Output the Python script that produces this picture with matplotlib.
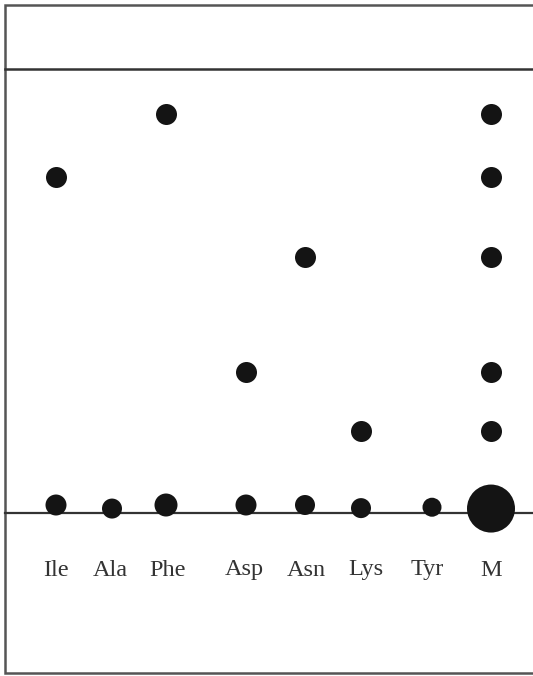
import matplotlib
matplotlib.use("Agg")
import matplotlib.pyplot as plt

# lanes on the TLC plate
lanes = ['Ile', 'Ala', 'Phe', 'Asp', 'Asn', 'Lys', 'Tyr', 'M']
lane_x = [56, 112, 166, 246, 305, 361, 432, 491]

# origin spots (Rf ~ 0) and their diameters (px)
origin_rf = [0.018, 0.010, 0.018, 0.018, 0.018, 0.011, 0.013, 0.010]
origin_d = [21, 20, 23, 21, 20, 20, 19, 48]

# migrated spots: lane name -> Rf values
spot_lane = ['Ile', 'Phe', 'Asp', 'Asn', 'Lys', 'M', 'M', 'M', 'M', 'M']
spot_rf = [0.757, 0.899, 0.318, 0.577, 0.185, 0.899, 0.757, 0.577, 0.318, 0.185]

W, H = 533, 676
Y_ORIGIN, Y_FRONT = 513, 69
span = Y_ORIGIN - Y_FRONT

fig = plt.figure(figsize=(W / 100, H / 100), dpi=100)
ax = fig.add_axes([0, 0, 1, 1])
ax.set_xlim(0, W)
ax.set_ylim(-(H - Y_ORIGIN) / span, Y_ORIGIN / span)
ax.axis('off')

def pt(d):
    # diameter in px -> scatter size in pt^2
    return (d * 72 / 100) ** 2

# plate outline
top = (Y_ORIGIN - 5) / span
bot = -(673 - Y_ORIGIN) / span
ax.plot([W + 5, 5, 5, W + 5], [top, top, bot, bot],
        color='#555555', lw=1.8, solid_joinstyle='miter', clip_on=False)
# solvent front and origin line
ax.plot([5, W + 5], [1.0, 1.0], color='#333333', lw=1.8)
ax.plot([5, W + 5], [0.0, 0.0], color='#333333', lw=1.6)

ax.scatter(lane_x, origin_rf, s=[pt(d) for d in origin_d], color='#141414', zorder=3, linewidths=0)
sx = [lane_x[lanes.index(l)] for l in spot_lane]
ax.scatter(sx, spot_rf, s=pt(21), color='#141414', zorder=3, linewidths=0)

label_x = [56, 110, 168, 244, 306, 366, 427, 491]
for x, name in zip(label_x, lanes):
    ax.text(x, -(570 - Y_ORIGIN) / span, name, ha='center', va='center',
            fontsize=17.5, family='Liberation Serif', color='#333333')

fig.savefig('out.png', dpi=100)
